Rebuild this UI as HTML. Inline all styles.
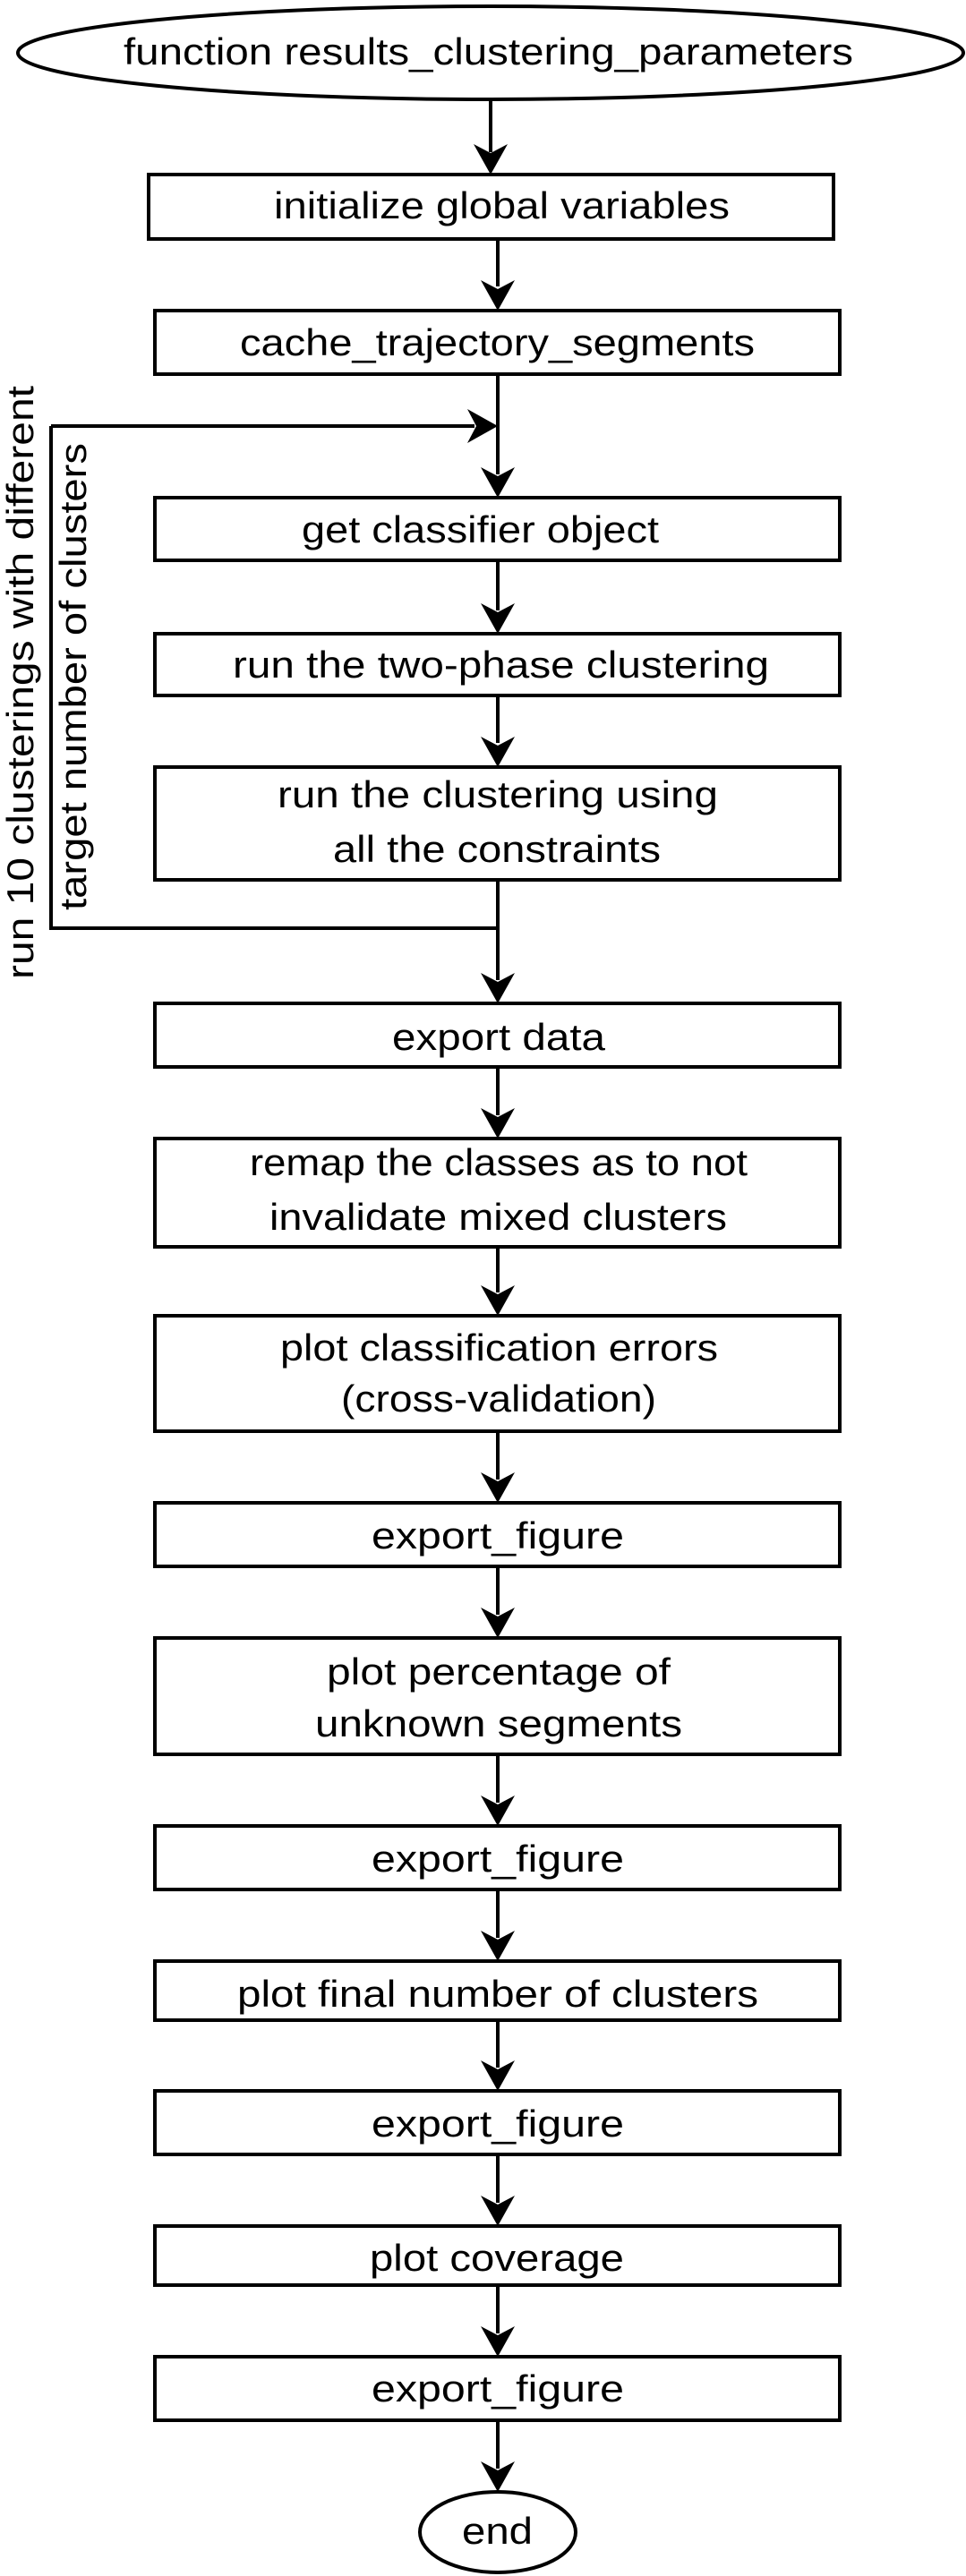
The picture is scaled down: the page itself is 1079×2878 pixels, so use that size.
<!DOCTYPE html>
<html><head><meta charset="utf-8"><style>html,body{margin:0;padding:0;background:#fff}svg{display:block}</style></head>
<body>
<svg width="1079" height="2878" viewBox="0 0 1079 2878" xmlns="http://www.w3.org/2000/svg">
<g fill="none" stroke="#000" stroke-width="4">
<ellipse cx="548" cy="59" rx="528" ry="52"/>
<ellipse cx="556" cy="2829" rx="87" ry="45"/>
<rect x="166" y="195" width="765" height="72"/>
<rect x="173" y="347" width="765" height="71"/>
<rect x="173" y="556" width="765" height="70"/>
<rect x="173" y="708" width="765" height="69"/>
<rect x="173" y="857" width="765" height="126"/>
<rect x="173" y="1121" width="765" height="71"/>
<rect x="173" y="1272" width="765" height="121"/>
<rect x="173" y="1470" width="765" height="129"/>
<rect x="173" y="1679" width="765" height="71"/>
<rect x="173" y="1830" width="765" height="130"/>
<rect x="173" y="2040" width="765" height="71"/>
<rect x="173" y="2191" width="765" height="66"/>
<rect x="173" y="2336" width="765" height="71"/>
<rect x="173" y="2487" width="765" height="66"/>
<rect x="173" y="2633" width="765" height="71"/>
<path d="M548 111V170 M556 267V320 M556 418V530 M556 626V682 M556 777V830 M556 983V1095 M556 1192V1246 M556 1393V1444 M556 1599V1653 M556 1750V1804 M556 1960V2014 M556 2111V2165 M556 2257V2310 M556 2407V2461 M556 2553V2607 M556 2704V2758"/>
<path d="M57 476H530 M57 476V1037H556"/>
</g>
<g fill="#000">
<path d="M548 195l-19-34 19 10 19-10z"/>
<path d="M556 347l-19-34 19 10 19-10z"/>
<path d="M556 556l-19-34 19 10 19-10z"/>
<path d="M556 708l-19-34 19 10 19-10z"/>
<path d="M556 857l-19-34 19 10 19-10z"/>
<path d="M556 1121l-19-34 19 10 19-10z"/>
<path d="M556 1272l-19-34 19 10 19-10z"/>
<path d="M556 1470l-19-34 19 10 19-10z"/>
<path d="M556 1679l-19-34 19 10 19-10z"/>
<path d="M556 1830l-19-34 19 10 19-10z"/>
<path d="M556 2040l-19-34 19 10 19-10z"/>
<path d="M556 2191l-19-34 19 10 19-10z"/>
<path d="M556 2336l-19-34 19 10 19-10z"/>
<path d="M556 2487l-19-34 19 10 19-10z"/>
<path d="M556 2633l-19-34 19 10 19-10z"/>
<path d="M556 2784l-19-34 19 10 19-10z"/>
<path d="M556 476l-34-19 10 19-10 19z"/>
</g>
<g font-family="Liberation Sans, sans-serif" font-size="42" fill="#000">
<text x="138" y="72" textLength="815" lengthAdjust="spacingAndGlyphs">function results_clustering_parameters</text>
<text x="306" y="244" textLength="509" lengthAdjust="spacingAndGlyphs">initialize global variables</text>
<text x="268" y="397" textLength="575" lengthAdjust="spacingAndGlyphs">cache_trajectory_segments</text>
<text x="337" y="606" textLength="399" lengthAdjust="spacingAndGlyphs">get classifier object</text>
<text x="260" y="757" textLength="599" lengthAdjust="spacingAndGlyphs">run the two-phase clustering</text>
<text x="310" y="902" textLength="492" lengthAdjust="spacingAndGlyphs">run the clustering using</text>
<text x="372" y="963" textLength="366" lengthAdjust="spacingAndGlyphs">all the constraints</text>
<text x="438" y="1173" textLength="238" lengthAdjust="spacingAndGlyphs">export data</text>
<text x="279" y="1313" textLength="556" lengthAdjust="spacingAndGlyphs">remap the classes as to not</text>
<text x="301" y="1374" textLength="511" lengthAdjust="spacingAndGlyphs">invalidate mixed clusters</text>
<text x="313" y="1520" textLength="489" lengthAdjust="spacingAndGlyphs">plot classification errors</text>
<text x="381" y="1577" textLength="352" lengthAdjust="spacingAndGlyphs">(cross-validation)</text>
<text x="415" y="1730" textLength="282" lengthAdjust="spacingAndGlyphs">export_figure</text>
<text x="365" y="1882" textLength="384" lengthAdjust="spacingAndGlyphs">plot percentage of</text>
<text x="352" y="1940" textLength="410" lengthAdjust="spacingAndGlyphs">unknown segments</text>
<text x="415" y="2091" textLength="282" lengthAdjust="spacingAndGlyphs">export_figure</text>
<text x="265" y="2242" textLength="582" lengthAdjust="spacingAndGlyphs">plot final number of clusters</text>
<text x="415" y="2387" textLength="282" lengthAdjust="spacingAndGlyphs">export_figure</text>
<text x="413" y="2537" textLength="284" lengthAdjust="spacingAndGlyphs">plot coverage</text>
<text x="415" y="2683" textLength="282" lengthAdjust="spacingAndGlyphs">export_figure</text>
<text x="516" y="2842" textLength="79" lengthAdjust="spacingAndGlyphs">end</text>
<text transform="translate(37,1094) rotate(-90)" textLength="663" lengthAdjust="spacingAndGlyphs">run 10 clusterings with different</text>
<text transform="translate(96,1017) rotate(-90)" textLength="522" lengthAdjust="spacingAndGlyphs">target number of clusters</text>
</g>
</svg>
</body></html>
